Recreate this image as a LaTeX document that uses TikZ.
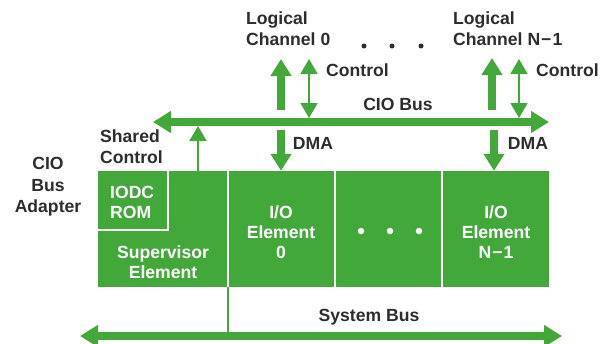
\documentclass[tikz,border=0pt]{standalone}
\usepackage{fontspec}
\setmainfont{Liberation Sans}
\usetikzlibrary{arrows.meta}
\definecolor{hpgreen}{RGB}{66,168,58}
\definecolor{ink}{RGB}{45,45,45}

\begin{document}
\begin{tikzpicture}[x=1pt,y=-1pt,
  lbl/.style={text=ink,font=\bfseries\fontsize{17.6}{21}\selectfont,inner sep=0pt,align=left},
  inlbl/.style={text=white,font=\bfseries\fontsize{17.6}{20}\selectfont,inner sep=0pt,align=center},
  block/.style={fill=hpgreen,inner sep=0pt,minimum height=116pt},
  bus/.style={draw=hpgreen,line width=8pt,{Triangle[length=18pt,width=21pt]}-{Triangle[length=18pt,width=21pt]}},
  fat/.style={draw=hpgreen,line width=8pt,-{Triangle[length=17pt,width=20pt]}},
  thin/.style={draw=hpgreen,line width=1.8pt,-{Triangle[length=15pt,width=17pt]}},
  thinboth/.style={draw=hpgreen,line width=1.8pt,{Triangle[length=15pt,width=17pt]}-{Triangle[length=15pt,width=17pt]}},
  wdot/.style={circle,fill=white,inner sep=0pt,minimum size=6.5pt},
  kdot/.style={circle,fill=ink,inner sep=0pt,minimum size=5pt},
]
\useasboundingbox (0,0) rectangle (608,343);

% adapter blocks
\node[block,minimum width=129.2pt] (sup) at (162.6,229) {};
\node[block,minimum width=105.4pt] (io0) at (281.5,229) {};
\node[block,minimum width=105.4pt] (mid) at (388.5,229) {};
\node[block,minimum width=106.2pt] (ion) at (495.9,229) {};
\node[fill=hpgreen,draw=white,line width=1.6pt,inner sep=0pt,
      minimum width=71pt,minimum height=60pt] (rom) at (132.5,200) {};

% block texts
\node[inlbl,align=left,anchor=west] (romt) at (110,202) {IODC\\ROM};
\node[inlbl] (supt) at (163,262) {Supervisor\\Element};
\node[inlbl] (io0t) at (281,232) {I/O\\Element\\0};
\node[inlbl] (iont) at (496,232) {I/O\\Element\\N\kern1pt−\kern1pt1};
\node[wdot] (md1) at (361,231) {};
\node[wdot] (md2) at (390,231) {};
\node[wdot] (md3) at (419,231) {};

% bus end points
\coordinate (cioL) at (153,122);
\coordinate (cioR) at (549,122);
\coordinate (sysL) at (80,336);
\coordinate (sysR) at (562,336);
\coordinate (jn) at (228,287);

% channel 0 arrows
\coordinate (up0s) at (281,110);
\coordinate (up0e) at (281,59);
\coordinate (ct0s) at (309,59);
\coordinate (ct0e) at (309,118);
\coordinate (dm0s) at (281,130);
% channel N-1 arrows
\coordinate (upns) at (492,110);
\coordinate (upne) at (492,58);
\coordinate (ctns) at (519,59);
\coordinate (ctne) at (519,118);
\coordinate (dmns) at (494,130);
% shared control
\coordinate (shs) at (198,171);
\coordinate (she) at (198,126);

\draw[bus] (cioL) -- (cioR);
\draw[bus] (sysL) -- (sysR);
\draw[draw=hpgreen,line width=1.6pt] (jn) -- (jn |- sysL);
\draw[thin] (shs) -- (she);
\draw[fat] (up0s) -- (up0e);
\draw[thinboth] (ct0s) -- (ct0e);
\draw[fat] (dm0s) -- (dm0s |- io0.north);
\draw[fat] (upns) -- (upne);
\draw[thinboth] (ctns) -- (ctne);
\draw[fat] (dmns) -- (dmns |- ion.north);

% labels
\node[lbl,anchor=west] (lc0) at (246,29) {Logical\\Channel 0};
\node[lbl,anchor=west] (lcn) at (453,29) {Logical\\Channel N\kern1pt−\kern1pt1};
\node[kdot] (td1) at (364,46) {};
\node[kdot] (td2) at (392,46) {};
\node[kdot] (td3) at (421,46) {};
\node[lbl,anchor=west] (c0) at (326,70) {Control};
\node[lbl,anchor=west] (cn) at (536,70) {Control};
\node[lbl] (ciob) at (398,104) {CIO Bus};
\node[lbl] (d0) at (313,143) {DMA};
\node[lbl] (dn) at (528,143) {DMA};
\node[lbl,anchor=west] (shc) at (100,147) {Shared\\Control};
\node[lbl,align=center,font=\bfseries\fontsize{17.6}{21.5}\selectfont] (cba) at (48,187) {CIO\\Bus\\Adapter};
\node[lbl] (sysb) at (369,317) {System Bus};
\end{tikzpicture}
\end{document}
